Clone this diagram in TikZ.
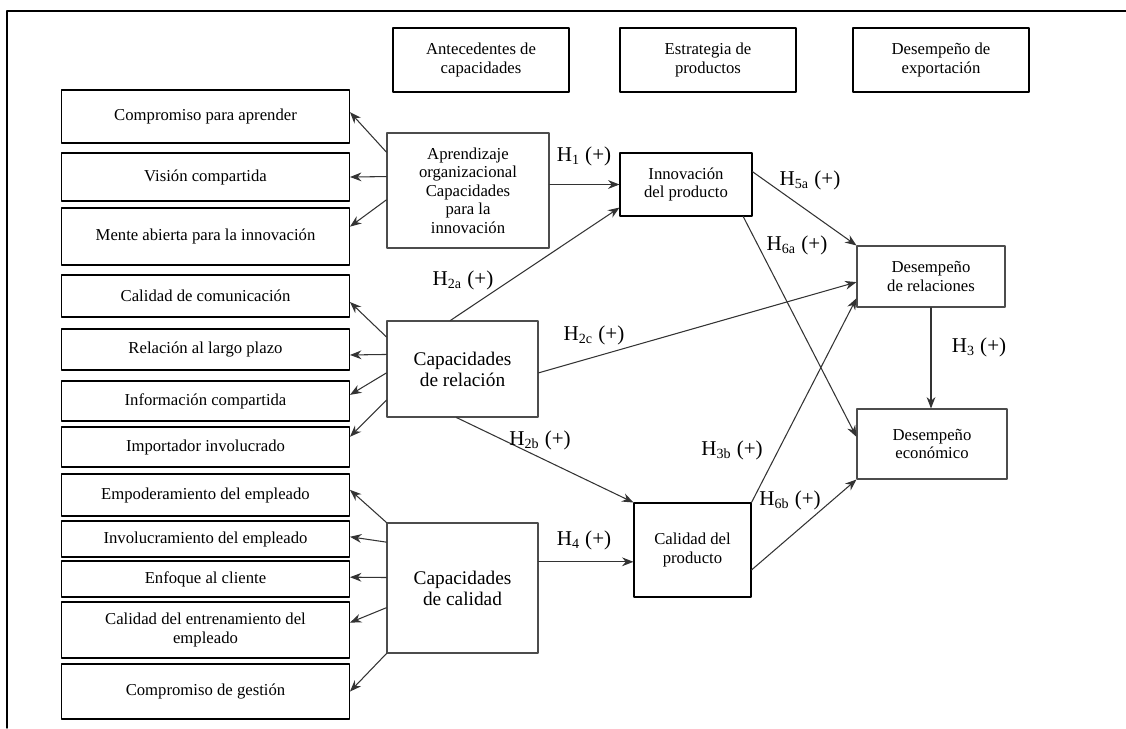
\documentclass[tikz,border=0pt]{standalone}
\usepackage{fontspec}
\setmainfont{Liberation Serif}
\usetikzlibrary{arrows.meta,calc}

\begin{document}
\begin{tikzpicture}[x=0.02cm,y=-0.02cm,>=Stealth,line cap=round,line join=round,
    box/.style={draw,line width=.6pt,align=center,inner sep=1pt,
      font=\fontsize{9.5}{10.5}\selectfont},
    leftbox/.style={box,minimum width=5.76cm},
    midbox/.style={box,draw=black!70},
    bigtext/.style={font=\fontsize{11}{12}\selectfont},
    link/.style={-{Stealth[length=6.5pt,width=5pt]},line width=.6pt,draw=black!80},
    hyp/.style={font=\fontsize{12}{13}\selectfont,inner sep=0pt}]
    \useasboundingbox (0,0) rectangle (1126,728);
    % The frame round the model.
    \draw[line width=.8pt] (7,728) -- (7,11) -- (1126,11);

    % Column headings.
    \node[box,minimum width=3.52cm,minimum height=1.28cm] (ant) at (481,60) {Antecedentes de\\capacidades};
    \node[box,minimum width=3.52cm,minimum height=1.28cm] (est) at (708,60) {Estrategia de\\productos};
    \node[box,minimum width=3.52cm,minimum height=1.28cm] (exp) at (941,60) {Desempeño de\\exportación};

    % The indicators on the left.
    \node[leftbox,minimum height=1.06cm] (cpa) at (205.5,116.5) {Compromiso para aprender};
    \node[leftbox,minimum height=.96cm] (vis) at (205.5,177) {Visión compartida};
    \node[leftbox,minimum height=1.14cm] (men) at (205.5,236.5) {Mente abierta para la innovación};
    \node[leftbox,minimum height=.84cm] (com) at (205.5,296) {Calidad de comunicación};
    \node[leftbox,minimum height=.82cm] (lar) at (205.5,349.5) {Relación al largo plazo};
    \node[leftbox,minimum height=.80cm] (inf) at (205.5,401) {Información compartida};
    \node[leftbox,minimum height=.80cm] (imp) at (205.5,447) {Importador involucrado};
    \node[leftbox,minimum height=.84cm] (emp) at (205.5,495) {Empoderamiento del empleado};
    \node[leftbox,minimum height=.72cm] (inv) at (205.5,539) {Involucramiento del empleado};
    \node[leftbox,minimum height=.72cm] (enf) at (205.5,579) {Enfoque al cliente};
    \node[leftbox,minimum height=1.12cm] (ent) at (205.5,630) {Calidad del entrenamiento del\\empleado};
    \node[leftbox,minimum height=1.10cm] (ges) at (205.5,691.5) {Compromiso de gestión};

    % The capabilities.
    \node[midbox,minimum width=3.24cm,minimum height=2.30cm] (apr) at (468,190.5)
      {Aprendizaje\\organizacional\\Capacidades\\para la\\innovación};
    \node[midbox,bigtext,minimum width=3.02cm,minimum height=1.92cm] (rel) at (462.5,369) {Capacidades\\de relación};
    \node[midbox,bigtext,minimum width=3.02cm,minimum height=2.60cm] (cal) at (462.5,588) {Capacidades\\de calidad};

    % Product strategy and export performance.
    \node[box,minimum width=2.64cm,minimum height=1.26cm] (ino) at (686,184.5) {Innovación\\del producto};
    \node[box,minimum width=2.34cm,minimum height=1.88cm] (cpr) at (692.5,550) {Calidad del\\producto};
    \node[midbox,minimum width=2.96cm,minimum height=1.22cm] (drel) at (931,276.5) {Desempeño\\de relaciones};
    \node[midbox,minimum width=3.00cm,minimum height=1.40cm] (deco) at (932,444) {Desempeño\\económico};

    % Fans out to the indicators.
    \foreach \f/\t/\g in {.17/cpa/.42,.38/vis/.5,.58/men/.33}
      \draw[link] ($(apr.north west)!\f!(apr.south west)$) -- ($(\t.north east)!\g!(\t.south east)$);
    \foreach \f/\t/\g in {.17/com/.64,.35/lar/.63,.54/inf/.35,.82/imp/.25}
      \draw[link] ($(rel.north west)!\f!(rel.south west)$) -- ($(\t.north east)!\g!(\t.south east)$);
    \foreach \f/\t/\g in {0/emp/.38,.15/inv/.44,.42/enf/.45,.65/ent/.37,1/ges/.5}
      \draw[link] ($(cal.north west)!\f!(cal.south west)$) -- ($(\t.north east)!\g!(\t.south east)$);

    % The hypotheses.
    \draw[link] (apr.east |- ino.west) -- (ino.west);
    \draw[link] ($(rel.north west)!.42!(rel.north east)$) -- ($(ino.north west)!.86!(ino.south west)$);
    \draw[link] ($(rel.north east)!.54!(rel.south east)$) -- ($(drel.north west)!.59!(drel.south west)$);
    \draw[link] ($(rel.south west)!.46!(rel.south east)$) -- (cpr.north west);
    \coordinate (hfour) at ($(cal.north east)!.3!(cal.south east)$);
    \draw[link] (hfour) -- (hfour -| cpr.west);
    \draw[link] ($(ino.north east)!.3!(ino.south east)$) -- (drel.north west);
    \draw[link] ($(ino.south west)!.93!(ino.south east)$) -- ($(deco.north west)!.4!(deco.south west)$);
    \draw[link] (cpr.north east) -- ($(drel.north west)!.85!(drel.south west)$);
    \draw[link] ($(cpr.north east)!.71!(cpr.south east)$) -- (deco.south west);
    \draw[link] (drel.south) -- (drel.south |- deco.north);

    \node[hyp] (hone) at (584,156) {H\textsubscript{1} (+)};
    \node[hyp] (htwoa) at (463,280) {H\textsubscript{2a} (+)};
    \node[hyp] (htwoc) at (594,335) {H\textsubscript{2c} (+)};
    \node[hyp] (htwob) at (540,440) {H\textsubscript{2b} (+)};
    \node[hyp] (hfourlab) at (584,540) {H\textsubscript{4} (+)};
    \node[hyp] (hfivea) at (810,180) {H\textsubscript{5a} (+)};
    \node[hyp] (hsixa) at (797,245) {H\textsubscript{6a} (+)};
    \node[hyp] (hthreeb) at (732,450) {H\textsubscript{3b} (+)};
    \node[hyp] (hsixb) at (790,500) {H\textsubscript{6b} (+)};
    \node[hyp] (hthree) at (979,347) {H\textsubscript{3} (+)};
  \end{tikzpicture}
\end{document}
